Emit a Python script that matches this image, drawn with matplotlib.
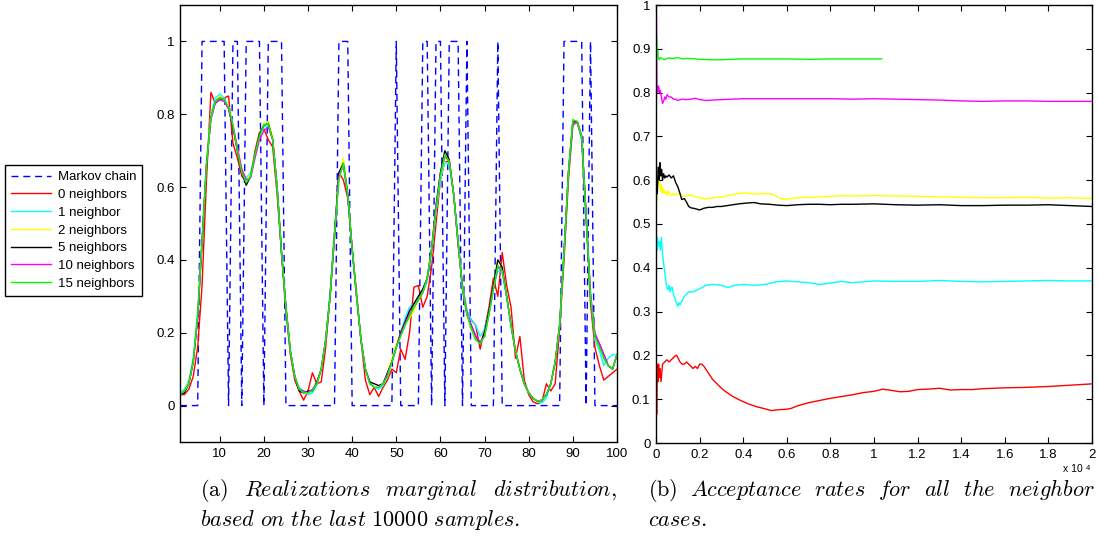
import matplotlib
matplotlib.use("Agg")
import matplotlib.pyplot as plt
import numpy as np
from matplotlib.ticker import FuncFormatter

plt.rcParams['font.family'] = ['Liberation Sans', 'DejaVu Sans']
plt.rcParams['mathtext.fontset'] = 'cm'

# ---------------- left panel: marginal distribution ----------------
positions = np.arange(1, 101)

markov_chain = [0, 0, 0, 0, 0, 1, 1, 1, 1, 1,
                1, 0, 1, 1, 0, 1, 1, 1, 1, 0,
                1, 1, 1, 1, 0, 0, 0, 0, 0, 0,
                0, 0, 0, 0, 0, 0, 1, 1, 1, 0,
                0, 0, 0, 0, 0, 0, 0, 0, 0, 1,
                0, 0, 0, 0, 0, 1, 1, 0, 1, 1,
                0, 1, 1, 1, 0, 1, 0, 0, 0, 0,
                0, 0, 1, 0, 0, 0, 0, 0, 0, 0,
                0, 0, 0, 0, 0, 0, 0, 1, 1, 1,
                1, 1, 0, 1, 0, 0, 0, 0, 0, 0]

n0 = [0.03, 0.03, 0.045, 0.08, 0.16, 0.33, 0.62, 0.86, 0.83, 0.84,
      0.845, 0.85, 0.72, 0.68, 0.63, 0.615, 0.63, 0.70, 0.75, 0.76,
      0.73, 0.71, 0.58, 0.42, 0.26, 0.14, 0.07, 0.04, 0.015, 0.04,
      0.09, 0.06, 0.065, 0.16, 0.30, 0.46, 0.64, 0.62, 0.57, 0.43,
      0.31, 0.18, 0.07, 0.03, 0.05, 0.025, 0.05, 0.07, 0.10, 0.09,
      0.155, 0.127, 0.20, 0.325, 0.33, 0.27, 0.30, 0.38, 0.50, 0.62,
      0.67, 0.67, 0.58, 0.44, 0.33, 0.26, 0.235, 0.22, 0.155, 0.21,
      0.27, 0.35, 0.30, 0.42, 0.33, 0.27, 0.13, 0.19, 0.07, 0.03,
      0.01, 0.005, 0.01, 0.06, 0.04, 0.06, 0.21, 0.40, 0.62, 0.77,
      0.78, 0.73, 0.52, 0.28, 0.16, 0.11, 0.07, 0.08, 0.09, 0.10]

n1 = [0.035, 0.045, 0.07, 0.13, 0.26, 0.46, 0.67, 0.80, 0.845, 0.855,
      0.845, 0.82, 0.765, 0.70, 0.645, 0.625, 0.64, 0.69, 0.74, 0.765,
      0.77, 0.73, 0.60, 0.42, 0.27, 0.15, 0.08, 0.05, 0.04, 0.03,
      0.035, 0.055, 0.10, 0.18, 0.31, 0.48, 0.63, 0.675, 0.58, 0.43,
      0.30, 0.18, 0.10, 0.065, 0.05, 0.045, 0.055, 0.08, 0.12, 0.16,
      0.20, 0.24, 0.27, 0.28, 0.295, 0.31, 0.34, 0.42, 0.53, 0.62,
      0.67, 0.66, 0.58, 0.45, 0.33, 0.26, 0.235, 0.22, 0.19, 0.21,
      0.26, 0.32, 0.37, 0.365, 0.30, 0.22, 0.15, 0.10, 0.06, 0.035,
      0.02, 0.01, 0.008, 0.02, 0.06, 0.12, 0.22, 0.42, 0.64, 0.775,
      0.78, 0.73, 0.52, 0.30, 0.18, 0.15, 0.11, 0.13, 0.14, 0.14]

n2 = [0.03, 0.04, 0.065, 0.12, 0.25, 0.46, 0.67, 0.795, 0.835, 0.85,
      0.84, 0.82, 0.77, 0.705, 0.645, 0.615, 0.635, 0.69, 0.745, 0.775,
      0.78, 0.735, 0.60, 0.42, 0.27, 0.15, 0.08, 0.045, 0.035, 0.035,
      0.04, 0.06, 0.10, 0.18, 0.30, 0.47, 0.63, 0.68, 0.585, 0.43,
      0.30, 0.18, 0.10, 0.06, 0.05, 0.05, 0.06, 0.09, 0.13, 0.17,
      0.20, 0.225, 0.24, 0.26, 0.29, 0.31, 0.35, 0.43, 0.54, 0.63,
      0.68, 0.67, 0.58, 0.45, 0.32, 0.25, 0.21, 0.18, 0.17, 0.19,
      0.25, 0.33, 0.40, 0.38, 0.30, 0.22, 0.15, 0.10, 0.06, 0.035,
      0.02, 0.012, 0.015, 0.03, 0.06, 0.12, 0.22, 0.42, 0.64, 0.785,
      0.78, 0.74, 0.52, 0.30, 0.19, 0.16, 0.13, 0.11, 0.10, 0.14]

n5 = [0.03, 0.035, 0.06, 0.12, 0.24, 0.45, 0.66, 0.79, 0.835, 0.845,
      0.84, 0.815, 0.765, 0.70, 0.64, 0.605, 0.63, 0.69, 0.745, 0.77,
      0.775, 0.73, 0.60, 0.42, 0.27, 0.15, 0.08, 0.04, 0.035, 0.04,
      0.04, 0.065, 0.10, 0.18, 0.30, 0.47, 0.64, 0.665, 0.58, 0.43,
      0.30, 0.18, 0.10, 0.065, 0.06, 0.055, 0.06, 0.09, 0.12, 0.16,
      0.20, 0.23, 0.26, 0.28, 0.30, 0.32, 0.35, 0.43, 0.55, 0.64,
      0.70, 0.675, 0.58, 0.45, 0.32, 0.25, 0.22, 0.19, 0.17, 0.20,
      0.26, 0.33, 0.40, 0.38, 0.30, 0.22, 0.15, 0.10, 0.06, 0.035,
      0.02, 0.012, 0.015, 0.03, 0.06, 0.12, 0.22, 0.42, 0.64, 0.78,
      0.78, 0.74, 0.52, 0.30, 0.19, 0.17, 0.14, 0.11, 0.10, 0.14]

n10 = [0.03, 0.04, 0.06, 0.12, 0.24, 0.45, 0.66, 0.785, 0.83, 0.84,
       0.835, 0.815, 0.77, 0.71, 0.65, 0.62, 0.625, 0.68, 0.73, 0.755,
       0.765, 0.73, 0.60, 0.42, 0.27, 0.15, 0.08, 0.045, 0.04, 0.035,
       0.045, 0.06, 0.10, 0.18, 0.30, 0.47, 0.63, 0.66, 0.58, 0.43,
       0.30, 0.18, 0.10, 0.06, 0.05, 0.05, 0.06, 0.085, 0.12, 0.16,
       0.195, 0.225, 0.25, 0.27, 0.29, 0.31, 0.35, 0.43, 0.54, 0.635,
       0.685, 0.67, 0.58, 0.45, 0.32, 0.255, 0.22, 0.19, 0.175, 0.19,
       0.25, 0.32, 0.38, 0.37, 0.30, 0.22, 0.15, 0.10, 0.06, 0.035,
       0.02, 0.012, 0.015, 0.03, 0.06, 0.12, 0.22, 0.42, 0.64, 0.78,
       0.775, 0.74, 0.53, 0.31, 0.20, 0.17, 0.14, 0.11, 0.10, 0.14]

n15 = [0.03, 0.04, 0.06, 0.12, 0.25, 0.45, 0.66, 0.79, 0.835, 0.845,
       0.84, 0.82, 0.77, 0.70, 0.64, 0.612, 0.63, 0.69, 0.74, 0.77,
       0.775, 0.73, 0.60, 0.42, 0.27, 0.15, 0.08, 0.045, 0.035, 0.035,
       0.04, 0.06, 0.10, 0.18, 0.30, 0.47, 0.62, 0.665, 0.58, 0.43,
       0.30, 0.18, 0.10, 0.06, 0.05, 0.05, 0.06, 0.08, 0.12, 0.16,
       0.19, 0.22, 0.245, 0.27, 0.29, 0.31, 0.35, 0.43, 0.54, 0.63,
       0.69, 0.67, 0.58, 0.45, 0.32, 0.25, 0.21, 0.18, 0.17, 0.19,
       0.25, 0.32, 0.385, 0.37, 0.30, 0.22, 0.15, 0.10, 0.06, 0.035,
       0.02, 0.012, 0.015, 0.03, 0.06, 0.12, 0.22, 0.42, 0.64, 0.785,
       0.78, 0.74, 0.52, 0.30, 0.19, 0.16, 0.13, 0.11, 0.10, 0.14]

# ---------------- right panel: acceptance rates ----------------
it_r = [0, 30, 60, 90, 120, 150, 180, 230, 300, 400, 500, 600, 700, 800, 900, 950,
        1000, 1100, 1200, 1300, 1400, 1500, 1600, 1700, 1800, 1900, 2000, 2100, 2200,
        2400, 2600, 2800, 3000, 3200, 3500, 3800, 4200, 4600, 5000, 5300, 5600, 6000,
        6200, 6500, 7000, 7500, 8000, 8500, 9000, 9500, 10000, 10400, 10800, 11200,
        11600, 12000, 12500, 13000, 13500, 14000, 14500, 15000, 16000, 17000, 18000,
        19000, 20000]
acc_r = [0.19, 0.065, 0.18, 0.14, 0.18, 0.15, 0.17, 0.14, 0.18, 0.185, 0.19, 0.185,
         0.19, 0.195, 0.2, 0.2, 0.195, 0.185, 0.18, 0.18, 0.185, 0.18, 0.175, 0.17,
         0.175, 0.17, 0.18, 0.18, 0.175, 0.16, 0.145, 0.135, 0.125, 0.117, 0.107,
         0.099, 0.09, 0.083, 0.078, 0.074, 0.076, 0.077, 0.079, 0.085, 0.092, 0.097,
         0.102, 0.106, 0.11, 0.115, 0.118, 0.123, 0.12, 0.117, 0.118, 0.122, 0.123,
         0.125, 0.121, 0.122, 0.122, 0.124, 0.126, 0.127, 0.129, 0.132, 0.135]

it_c = [0, 20, 40, 60, 100, 150, 200, 250, 300, 350, 400, 450, 500, 550, 600, 650,
        700, 750, 800, 900, 1000, 1050, 1100, 1200, 1300, 1400, 1500, 1700, 2000,
        2300, 2600, 3000, 3300, 3600, 4000, 4500, 5000, 5500, 6000, 6500, 7000, 7500,
        8000, 8500, 9000, 9500, 10000, 11000, 12000, 13000, 14000, 15000, 16000,
        17000, 18000, 19000, 20000]
acc_c = [0.40, 0.47, 0.44, 0.47, 0.45, 0.46, 0.44, 0.47, 0.43, 0.41, 0.39, 0.37,
         0.355, 0.35, 0.36, 0.345, 0.355, 0.355, 0.34, 0.325, 0.312, 0.32, 0.315,
         0.325, 0.335, 0.34, 0.345, 0.345, 0.352, 0.36, 0.362, 0.36, 0.355, 0.36,
         0.362, 0.36, 0.362, 0.368, 0.37, 0.368, 0.366, 0.362, 0.365, 0.369, 0.366,
         0.368, 0.37, 0.369, 0.369, 0.371, 0.369, 0.368, 0.369, 0.37, 0.371, 0.37,
         0.37]

it_y = [0, 30, 60, 100, 150, 200, 250, 300, 350, 400, 450, 500, 550, 600, 700, 800,
        900, 1000, 1200, 1400, 1600, 1800, 2000, 2300, 2600, 3000, 3400, 3800, 4200,
        4600, 5000, 5400, 5700, 6000, 6500, 7000, 7500, 8000, 8500, 9000, 10000,
        11000, 12000, 13000, 14000, 15000, 16000, 17000, 18000, 19000, 20000]
acc_y = [0.63, 0.55, 0.61, 0.59, 0.6, 0.575, 0.59, 0.57, 0.58, 0.57, 0.575, 0.565,
         0.575, 0.57, 0.565, 0.57, 0.565, 0.57, 0.563, 0.565, 0.566, 0.562, 0.56,
         0.557, 0.56, 0.562, 0.566, 0.57, 0.571, 0.568, 0.57, 0.567, 0.558, 0.557,
         0.56, 0.561, 0.562, 0.563, 0.565, 0.564, 0.565, 0.564, 0.563, 0.562, 0.561,
         0.56, 0.56, 0.561, 0.559, 0.56, 0.558]

it_k = [0, 30, 60, 100, 150, 180, 220, 260, 300, 350, 400, 450, 500, 600, 700, 800,
        900, 1000, 1100, 1180, 1300, 1400, 1500, 1600, 1800, 2000, 2200, 2400, 2600,
        2800, 3000, 3400, 3800, 4200, 4500, 4800, 5200, 5600, 6000, 6500, 7000, 7500,
        8000, 8500, 9000, 10000, 11000, 12000, 13000, 14000, 15000, 16000, 17000,
        18000, 19000, 20000]
acc_k = [0.5, 0.6, 0.57, 0.63, 0.6, 0.64, 0.61, 0.625, 0.6, 0.615, 0.605, 0.61,
         0.607, 0.612, 0.605, 0.61, 0.595, 0.585, 0.57, 0.556, 0.558, 0.55, 0.54,
         0.537, 0.535, 0.532, 0.536, 0.538, 0.538, 0.54, 0.54, 0.543, 0.546, 0.548,
         0.549, 0.546, 0.545, 0.543, 0.542, 0.544, 0.545, 0.545, 0.544, 0.545, 0.545,
         0.546, 0.544, 0.543, 0.544, 0.542, 0.542, 0.543, 0.543, 0.544, 0.542, 0.54]

it_m = [0, 20, 40, 80, 120, 160, 200, 250, 300, 350, 400, 450, 500, 600, 700, 800,
        900, 1000, 1200, 1400, 1600, 1800, 2000, 2300, 2600, 3000, 3500, 4000, 5000,
        6000, 7000, 8000, 9000, 10000, 11000, 12000, 13000, 14000, 15000, 16000,
        17000, 18000, 19000, 20000]
acc_m = [1.0, 0.98, 0.82, 0.80, 0.815, 0.8, 0.805, 0.79, 0.775, 0.78, 0.79, 0.785,
         0.795, 0.79, 0.79, 0.785, 0.785, 0.782, 0.785, 0.784, 0.785, 0.787, 0.784,
         0.782, 0.783, 0.784, 0.785, 0.786, 0.786, 0.786, 0.786, 0.786, 0.785, 0.786,
         0.785, 0.784, 0.783, 0.781, 0.78, 0.781, 0.781, 0.78, 0.78, 0.78]

it_g = [0, 20, 40, 60, 80, 100, 150, 200, 300, 400, 500, 600, 800, 1000, 1200, 1500,
        2000, 2500, 3000, 3500, 4000, 4500, 5000, 6000, 7000, 8000, 9000, 10000, 10350]
acc_g = [0.0, 0.93, 0.9, 0.89, 0.895, 0.88, 0.875, 0.88, 0.877, 0.875, 0.878, 0.879,
         0.878, 0.88, 0.877, 0.878, 0.876, 0.875, 0.875, 0.876, 0.877, 0.877, 0.877,
         0.877, 0.876, 0.877, 0.877, 0.877, 0.877]

labels = ["0 neighbors", "1 neighbor", "2 neighbors", "5 neighbors",
          "10 neighbors", "15 neighbors"]
colors = ["#ff0000", "#00ffff", "#ffff00", "#000000", "#ff00ff", "#00ff00"]

W, H = 1098, 544
fig = plt.figure(figsize=(W / 100, H / 100), dpi=100)
ax1 = fig.add_axes([180 / W, 1 - 442 / H, 437 / W, 437 / H])
ax2 = fig.add_axes([656 / W, 1 - 443 / H, 436 / W, 438 / H])

# left
ax1.plot(positions, markov_chain, color="#0000ff", lw=1.0, dashes=(5, 3.5),
         label="Markov chain")
for vals, c, lab in zip([n0, n1, n2, n5, n10, n15], colors, labels):
    ax1.plot(positions, vals, color=c, lw=1.0, label=lab)
ax1.set_xlim(1, 100)
ax1.set_ylim(-0.1, 1.1)
ax1.set_xticks(np.arange(10, 101, 10))
ax1.set_yticks([0, 0.2, 0.4, 0.6, 0.8, 1.0])

# right
for it, acc, c in zip([it_r, it_c, it_y, it_k, it_m, it_g],
                      [acc_r, acc_c, acc_y, acc_k, acc_m, acc_g], colors):
    ax2.plot(it, acc, color=c, lw=1.0)
ax2.set_xlim(0, 20000)
ax2.set_ylim(0, 1)
ax2.set_xticks(np.arange(0, 20001, 2000))
ax2.set_yticks(np.arange(0, 1.01, 0.1))
ax2.xaxis.set_major_formatter(FuncFormatter(lambda v, p: "%g" % round(v / 1e4, 2)))

for ax in (ax1, ax2):
    ax.yaxis.set_major_formatter(FuncFormatter(lambda v, p: "%g" % round(v, 2)))
    ax.tick_params(direction="in", top=True, right=True, length=4, width=0.8,
                   labelsize=9.5, pad=4, colors="black")
    for s in ax.spines.values():
        s.set_linewidth(1.0)

fig.text(1063 / W, 1 - 472 / H, "x 10", fontsize=7.5, ha="left", va="baseline")
fig.text(1086 / W, 1 - 477 / H + 0.012, "4", fontsize=5.5, ha="left", va="baseline")

# legend, outside the left panel
h, l = ax1.get_legend_handles_labels()
leg = fig.legend(h, l, loc="upper left", bbox_to_anchor=(5 / W, 1 - 165 / H),
                 fontsize=9.5, frameon=True, fancybox=False, edgecolor="black",
                 framealpha=1, borderpad=0.45, labelspacing=0.42, handlelength=3.0,
                 handletextpad=0.55, borderaxespad=0)
leg.get_frame().set_linewidth(1.0)

# captions
CAP = 16
renderer = fig.canvas.get_renderer()


def justified(words, x0, x1, y):
    """place words so the line runs from x0 to x1 (pixels)"""
    arts = [fig.text(0, 1 - y / H, w, fontsize=CAP, va="baseline", ha="left")
            for w in words]
    widths = [a.get_window_extent(renderer).width for a in arts]
    gap = (x1 - x0 - sum(widths)) / (len(words) - 1)
    x = x0
    for a, wd in zip(arts, widths):
        a.set_x(x / W)
        x += wd + gap


justified([r"$\mathrm{(a)}$", r"$\mathit{Realizations}$", r"$\mathit{marginal}$",
           r"$\mathit{distribution}\mathrm{,}$"], 200, 617, 496)
fig.text(200 / W, 1 - 526 / H,
         r"$\mathit{based\ on\ the\ last}\ \mathrm{10000}\ \mathit{samples}\mathrm{.}$",
         fontsize=CAP, va="baseline", ha="left")
justified([r"$\mathrm{(b)}$", r"$\mathit{Acceptance}$", r"$\mathit{rates}$",
           r"$\mathit{for}$", r"$\mathit{all}$", r"$\mathit{the}$",
           r"$\mathit{neighbor}$"], 648, 1095, 496)
fig.text(648 / W, 1 - 526 / H, r"$\mathit{cases}\mathrm{.}$",
         fontsize=CAP, va="baseline", ha="left")

fig.savefig("out.png", dpi=100)
